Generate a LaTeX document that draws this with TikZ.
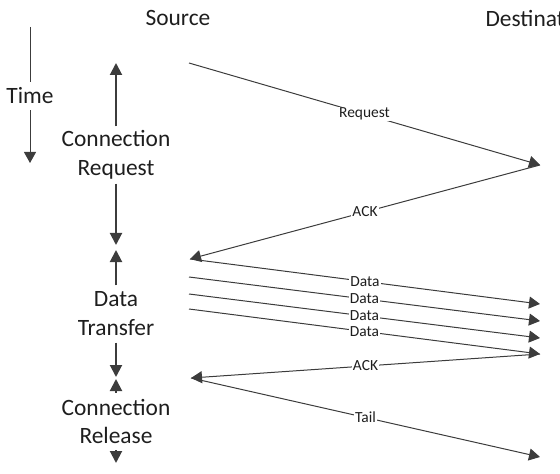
\documentclass[tikz,border=0pt]{standalone}
\usepackage{fontspec}
\setmainfont{Carlito}
\usetikzlibrary{arrows.meta}
\definecolor{ink}{HTML}{3C3C3C}
\definecolor{txt}{HTML}{1E1E1E}
\begin{document}
\begin{tikzpicture}[x=1bp, y=-1bp,
    every node/.style={text=txt, font=\fontsize{23.5}{29}\selectfont},
    msg/.style={draw=ink, line width=1bp, -{Triangle[length=11bp,width=12bp]}},
    msglabel/.style={fill=white, inner sep=1bp, font=\fontsize{15.5}{18}\selectfont},
    phase/.style={align=center, minimum height=57bp, inner sep=0bp},
    span/.style={draw=ink, line width=2bp, -{Triangle[length=12bp,width=12bp]}}]
        \useasboundingbox (0,0) rectangle (560,474);
        \clip (0,0) rectangle (560,474);
        \coordinate (s1) at (189,63);
        \coordinate (d1) at (540,165);
        \coordinate (s2) at (190,259);
        \coordinate (s3) at (189,277);
        \coordinate (s4) at (189,294);
        \coordinate (s5) at (189,309);
        \coordinate (d2) at (540,304);
        \coordinate (d3) at (540,321);
        \coordinate (d4) at (540,338);
        \coordinate (d5) at (540,354);
        \coordinate (s6) at (191,378);
        \coordinate (d6) at (540,457);
        \coordinate (t0) at (30,27);
        \coordinate (t1) at (30,163);
        \coordinate (creqtop) at (116,63);
        \coordinate (creqbot) at (116,245);
        \coordinate (dtrtop) at (116,250);
        \coordinate (dtrbot) at (116,377);
        \coordinate (creltop) at (116,379);
        \coordinate (crelbot) at (116,463);
        \node (src) at (178,18) {Source};
        \node (dst) at (540,18) {Destination};
        \node[minimum height=28bp, inner sep=0bp] (time) at (30,96) {Time};
        \node[phase] (creq) at (116,155) {Connection\\Request};
        \node[phase] (dtr) at (116,314) {Data\\Transfer};
        \node[phase] (crel) at (116,421.5) {Connection\\Release};
        \draw[draw=ink, line width=1bp] (t0) -- (time);
        \draw[msg] (time) -- (t1);
        \draw[span] (creq) -- (creqtop);
        \draw[span] (creq) -- (creqbot);
        \draw[span] (dtr) -- (dtrtop);
        \draw[span] (dtr) -- (dtrbot);
        \draw[span] (crel) -- (creltop);
        \draw[span] (crel) -- (crelbot);
        \draw[msg] (s1) -- node[msglabel] {Request} (d1);
        \draw[msg] (d1) -- node[msglabel] {ACK} (s2);
        \foreach \a/\b in {s2/d2,s3/d3,s4/d4,s5/d5}
            \draw[msg] (\a) -- node[msglabel] {Data} (\b);
        \draw[msg] (d5) -- node[msglabel] {ACK} (s6);
        \draw[msg] (s6) -- node[msglabel] {Tail} (d6);
    \end{tikzpicture}
\end{document}
